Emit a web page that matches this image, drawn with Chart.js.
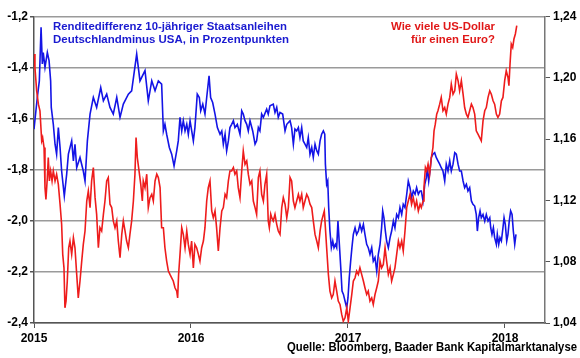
<!DOCTYPE html>
<html><head><meta charset="utf-8">
<script src="https://cdn.jsdelivr.net/npm/chart.js@4"></script>
<style>html,body{margin:0;padding:0;background:#fff}#wrap{width:580px;height:358px;position:relative}</style>
</head><body><div id="wrap"><canvas id="c" width="580" height="358"></canvas></div>
<script>
// Spread: 10y Bund minus 10y UST (percentage points), left axis
const spreadDates = [2015.000,2015.021,2015.034,2015.045,2015.053,2015.059,2015.070,2015.085,2015.096,2015.106,2015.110,2015.123,2015.134,2015.144,2015.155,2015.166,2015.176,2015.193,2015.208,2015.219,2015.240,2015.251,2015.261,2015.272,2015.293,2015.314,2015.325,2015.340,2015.357,2015.378,2015.399,2015.425,2015.442,2015.463,2015.484,2015.505,2015.527,2015.548,2015.569,2015.601,2015.622,2015.654,2015.675,2015.707,2015.728,2015.750,2015.771,2015.792,2015.813,
2015.824,2015.834,2015.845,2015.862,2015.877,2015.892,2015.909,2015.919,2015.930,2015.941,2015.951,2015.962,2015.973,2015.983,2015.994,2016.015,2016.025,2016.040,2016.053,2016.062,2016.075,2016.089,2016.100,2016.115,2016.125,2016.138,2016.153,2016.168,2016.185,2016.196,2016.206,2016.217,2016.227,2016.238,2016.248,2016.259,2016.270,2016.280,2016.295,2016.312,2016.323,2016.333,2016.344,2016.355,2016.365,2016.376,2016.393,2016.408,2016.418,2016.429,2016.439,2016.450,2016.461,2016.482,2016.492,2016.503,2016.524,2016.535,2016.546,2016.556,2016.567,2016.584,2016.599,2016.610,2016.631,
2016.641,2016.652,2016.662,2016.673,2016.684,2016.694,2016.705,2016.715,2016.726,2016.737,2016.747,2016.758,2016.769,2016.779,2016.790,2016.801,2016.811,2016.822,2016.832,2016.843,2016.852,2016.856,2016.864,2016.871,2016.877,2016.885,2016.894,2016.903,2016.911,2016.920,2016.928,2016.936,2016.945,2016.954,2016.962,2016.971,2016.981,2016.992,2017.000,2017.008,2017.017,2017.025,2017.034,2017.045,2017.055,2017.066,2017.076,2017.087,2017.098,2017.108,2017.119,2017.129,2017.140,2017.151,2017.161,2017.172,2017.183,2017.193,2017.204,2017.214,2017.221,2017.229,2017.238,2017.246,2017.257,2017.268,2017.278,2017.289,2017.299,2017.310,2017.321,2017.331,2017.342,2017.352,2017.363,2017.374,2017.384,2017.395,2017.405,2017.416,2017.427,2017.437,2017.448,2017.459,
2017.467,2017.478,2017.489,2017.499,2017.505,2017.514,2017.522,2017.531,2017.541,2017.552,2017.562,2017.573,2017.584,2017.594,2017.605,2017.616,2017.626,2017.637,2017.648,2017.658,2017.669,2017.680,2017.690,2017.701,2017.711,2017.722,2017.733,2017.743,2017.754,2017.764,2017.775,2017.786,2017.796,2017.807,2017.817,2017.824,2017.832,2017.841,2017.849,2017.860,2017.871,2017.881,2017.892,2017.903,2017.909,2017.917,2017.926,2017.934,2017.945,2017.951,2017.960,2017.968,2017.977,2017.987,2017.994,2018.002,2018.011,2018.019,2018.027,2018.036,2018.045,2018.053,2018.062,2018.070];
const spreadValues = [-1.641,-1.517,-1.452,-1.242,-1.386,-1.341,-1.399,-1.341,-1.373,-1.452,-1.556,-1.622,-1.700,-1.739,-1.635,-1.713,-1.805,-1.903,-1.818,-1.739,-1.687,-1.765,-1.700,-1.792,-1.752,-1.805,-1.844,-1.687,-1.582,-1.517,-1.556,-1.478,-1.530,-1.504,-1.556,-1.582,-1.517,-1.595,-1.543,-1.504,-1.491,-1.347,-1.452,-1.412,-1.530,-1.452,-1.491,-1.452,-1.465,
-1.648,-1.622,-1.661,-1.713,-1.739,-1.785,-1.726,-1.687,-1.595,-1.648,-1.608,-1.648,-1.622,-1.661,-1.608,-1.687,-1.635,-1.504,-1.517,-1.569,-1.543,-1.582,-1.517,-1.432,-1.517,-1.537,-1.582,-1.635,-1.661,-1.648,-1.700,-1.661,-1.726,-1.687,-1.635,-1.622,-1.608,-1.635,-1.622,-1.661,-1.569,-1.582,-1.608,-1.622,-1.648,-1.608,-1.648,-1.700,-1.687,-1.635,-1.648,-1.582,-1.595,-1.563,-1.582,-1.550,-1.543,-1.576,-1.556,-1.595,-1.576,-1.582,-1.648,-1.622,-1.608,
-1.635,-1.700,-1.641,-1.648,-1.635,-1.674,-1.635,-1.687,-1.700,-1.713,-1.674,-1.739,-1.713,-1.752,-1.700,-1.726,-1.739,-1.687,-1.661,-1.648,-1.661,-1.778,-1.857,-1.844,-1.948,-2.040,-2.105,-2.079,-2.105,-2.092,-2.105,-2.001,-2.092,-2.184,-2.275,-2.288,-2.314,-2.341,-2.301,-2.223,-2.158,-2.105,-2.053,-2.027,-2.053,-2.040,-2.014,-2.040,-2.014,-2.053,-2.092,-2.105,-2.131,-2.105,-2.158,-2.144,-2.197,-2.131,-2.092,-2.027,-1.961,-1.988,-2.040,-2.079,-2.105,-2.066,-2.040,-2.001,-2.027,-1.975,-1.988,-1.948,-1.975,-1.935,-1.948,-1.896,-1.844,-1.870,-1.909,-1.883,-1.896,-1.870,-1.896,-1.883,
-1.883,-1.922,-1.857,-1.831,-1.792,-1.844,-1.805,-1.752,-1.739,-1.733,-1.752,-1.765,-1.778,-1.792,-1.805,-1.844,-1.778,-1.805,-1.765,-1.805,-1.778,-1.733,-1.739,-1.778,-1.805,-1.805,-1.844,-1.870,-1.857,-1.883,-1.870,-1.922,-1.935,-1.942,-1.975,-2.040,-1.988,-1.961,-1.988,-1.975,-2.001,-1.975,-2.001,-1.988,-2.027,-2.053,-2.027,-2.066,-2.092,-2.053,-2.092,-2.066,-2.079,-2.027,-1.988,-2.014,-2.079,-2.053,-2.001,-1.961,-1.975,-2.040,-2.092,-2.053];

// EUR/USD, right axis
const fxDates = [2015.000,2015.006,2015.017,2015.028,2015.038,2015.049,2015.055,2015.064,2015.070,2015.076,2015.085,2015.091,2015.098,2015.106,2015.115,2015.123,2015.134,2015.144,2015.155,2015.166,2015.176,2015.183,2015.191,2015.197,2015.204,2015.212,2015.221,2015.229,2015.240,2015.251,2015.261,2015.272,2015.282,2015.293,2015.304,2015.314,2015.325,2015.336,2015.346,2015.357,2015.367,2015.378,2015.389,2015.399,2015.410,2015.420,2015.431,2015.442,2015.452,2015.463,2015.473,2015.484,2015.495,2015.505,2015.516,2015.527,2015.537,2015.548,2015.559,2015.569,2015.580,2015.590,2015.601,2015.611,2015.622,2015.633,2015.643,2015.650,2015.658,2015.669,2015.680,2015.690,2015.696,2015.707,2015.718,2015.728,2015.739,2015.750,2015.760,2015.771,2015.782,2015.792,2015.803,2015.813,
2015.824,2015.834,2015.845,2015.856,2015.866,2015.877,2015.887,2015.898,2015.909,2015.915,2015.921,2015.930,2015.941,2015.951,2015.962,2015.973,2015.983,2015.994,2016.004,2016.015,2016.025,2016.036,2016.047,2016.057,2016.068,2016.079,2016.089,2016.100,2016.110,2016.121,2016.132,2016.142,2016.153,2016.163,2016.174,2016.185,2016.196,2016.206,2016.217,2016.227,2016.238,2016.248,2016.259,2016.270,2016.280,2016.291,2016.301,2016.312,2016.323,2016.333,2016.344,2016.355,2016.365,2016.376,2016.387,2016.397,2016.408,2016.418,2016.429,2016.439,2016.450,2016.461,2016.471,2016.482,2016.492,2016.499,2016.508,2016.514,2016.524,2016.535,2016.546,2016.556,2016.567,2016.578,2016.588,2016.599,2016.610,2016.620,2016.631,
2016.641,2016.652,2016.662,2016.673,2016.684,2016.694,2016.705,2016.715,2016.726,2016.737,2016.747,2016.758,2016.769,2016.779,2016.790,2016.801,2016.811,2016.822,2016.832,2016.843,2016.849,2016.856,2016.864,2016.875,2016.885,2016.896,2016.906,2016.917,2016.928,2016.938,2016.949,2016.960,2016.970,2016.981,2016.992,2017.002,2017.013,2017.024,2017.034,2017.045,2017.055,2017.066,2017.076,2017.087,2017.098,2017.108,2017.119,2017.129,2017.140,2017.151,2017.161,2017.172,2017.183,2017.193,2017.204,2017.214,2017.225,2017.236,2017.246,2017.257,2017.268,2017.278,2017.289,2017.299,2017.310,2017.321,2017.331,2017.342,2017.352,2017.363,2017.374,2017.384,2017.395,2017.405,2017.416,2017.427,2017.437,2017.448,2017.459,
2017.467,2017.478,2017.484,2017.493,2017.501,2017.510,2017.520,2017.531,2017.541,2017.548,2017.556,2017.565,2017.573,2017.584,2017.594,2017.605,2017.616,2017.626,2017.637,2017.648,2017.658,2017.669,2017.680,2017.690,2017.701,2017.711,2017.722,2017.733,2017.743,2017.754,2017.764,2017.775,2017.786,2017.796,2017.807,2017.817,2017.828,2017.839,2017.849,2017.860,2017.871,2017.881,2017.892,2017.903,2017.913,2017.924,2017.934,2017.945,2017.955,2017.966,2017.977,2017.987,2017.998,2018.008,2018.019,2018.025,2018.032,2018.040,2018.049,2018.057,2018.066,2018.075];
const fxValues = [1.2155,1.2067,1.1915,1.1828,1.1785,1.1589,1.1610,1.1545,1.1283,1.1207,1.1349,1.1480,1.1327,1.1392,1.1327,1.1392,1.1327,1.1371,1.1305,1.1175,1.1044,1.0848,1.0760,1.0499,1.0543,1.0674,1.0891,1.0935,1.0848,1.0957,1.0891,1.0717,1.0564,1.0674,1.0804,1.0913,1.1000,1.1196,1.1262,1.1153,1.1327,1.1414,1.1218,1.1109,1.0891,1.1022,1.1000,1.1109,1.1196,1.1327,1.1349,1.1175,1.1153,1.1066,1.1022,1.1066,1.0935,1.0826,1.0978,1.1066,1.1000,1.0935,1.0891,1.0978,1.1066,1.1196,1.1371,1.1610,1.1480,1.1392,1.1305,1.1196,1.1327,1.1283,1.1371,1.1153,1.1218,1.1240,1.1196,1.1327,1.1371,1.1349,1.1283,1.1022,
1.1022,1.0891,1.0804,1.0739,1.0717,1.0695,1.0674,1.0630,1.0608,1.0564,1.0717,1.0848,1.1022,1.0978,1.0891,1.1000,1.0913,1.0848,1.0935,1.0760,1.0913,1.0891,1.0848,1.0804,1.0891,1.0935,1.1022,1.1196,1.1283,1.1327,1.1131,1.1087,1.1131,1.1022,1.0870,1.1022,1.1131,1.1153,1.1240,1.1218,1.1327,1.1392,1.1392,1.1414,1.1371,1.1392,1.1283,1.1218,1.1392,1.1523,1.1436,1.1458,1.1371,1.1305,1.1327,1.1196,1.1153,1.1109,1.1349,1.1392,1.1240,1.1196,1.1305,1.1371,1.1066,1.1022,1.1109,1.1087,1.1066,1.1109,1.1044,1.1000,1.0978,1.1153,1.1218,1.1175,1.1087,1.1153,1.1349,
1.1327,1.1196,1.1153,1.1196,1.1240,1.1196,1.1240,1.1153,1.1196,1.1240,1.1218,1.1175,1.1153,1.1066,1.0978,1.0935,1.0891,1.1000,1.1066,1.1109,1.1131,1.1022,1.0891,1.0717,1.0608,1.0564,1.0586,1.0674,1.0608,1.0543,1.0521,1.0456,1.0412,1.0434,1.0499,1.0412,1.0499,1.0586,1.0674,1.0695,1.0739,1.0717,1.0760,1.0717,1.0674,1.0630,1.0586,1.0608,1.0543,1.0564,1.0521,1.0586,1.0630,1.0674,1.0804,1.0760,1.0782,1.0891,1.0804,1.0717,1.0760,1.0674,1.0717,1.0760,1.0848,1.0935,1.0891,1.0935,1.0870,1.1000,1.1153,1.1196,1.1240,1.1175,1.1218,1.1153,1.1196,1.1131,1.1175,
1.1153,1.1196,1.1283,1.1414,1.1392,1.1436,1.1371,1.1480,1.1545,1.1654,1.1697,1.1763,1.1785,1.1828,1.1872,1.1785,1.1806,1.1763,1.1828,1.1872,1.1959,1.1893,1.1915,1.2024,1.1981,1.1915,1.1981,1.1893,1.1806,1.1763,1.1741,1.1785,1.1828,1.1806,1.1763,1.1654,1.1632,1.1610,1.1589,1.1719,1.1785,1.1806,1.1872,1.1915,1.1893,1.1850,1.1828,1.1763,1.1741,1.1763,1.1850,1.1872,1.1981,1.2046,1.2002,1.1948,1.2089,1.2220,1.2198,1.2253,1.2286,1.2340];

const yearTicks = [2015, 2016, 2017, 2018];
const leftTicks = [-2.4, -2.2, -2.0, -1.8, -1.6, -1.4, -1.2];
const rightTicks = [1.04, 1.08, 1.12, 1.16, 1.20, 1.24];
const spreadLabel = ['Renditedifferenz 10-jähriger Staatsanleihen', 'Deutschlandminus USA, in Prozentpunkten'];
const fxLabel = ['Wie viele US-Dollar', 'für einen Euro?'];
const sourceLabel = 'Quelle: Bloomberg, Baader Bank Kapitalmarktanalyse';

const FONT = 'Liberation Sans, Arial, sans-serif';
const BLUE = '#1414e6';
const RED = '#ee1c1c';

const textPlugin = {
  id: 'texts',
  afterDraw(chart) {
    const ctx = chart.ctx;
    ctx.save();
    ctx.textBaseline = 'middle';
    ctx.font = 'bold 11.5px ' + FONT;
    ctx.fillStyle = '#1a1ad0';
    ctx.textAlign = 'left';
    ctx.fillText(spreadLabel[0], 53, 26.5, 234);
    ctx.fillText(spreadLabel[1], 53, 39.5, 236);
    ctx.fillStyle = '#e01818';
    ctx.textAlign = 'right';
    ctx.fillText(fxLabel[0], 495, 26.5, 104);
    ctx.fillText(fxLabel[1], 495, 39.5, 84);
    ctx.fillStyle = '#000';
    ctx.font = 'bold 12px ' + FONT;
    ctx.fillText(sourceLabel, 577, 348, 290);
    ctx.restore();
  }
};

const toPts = (xs, ys) => xs.map((x, i) => ({x, y: ys[i]}));

new Chart(document.getElementById('c'), {
  type: 'line',
  data: {
    datasets: [
      {data: toPts(fxDates, fxValues), yAxisID: 'yR', borderColor: RED, borderWidth: 1.6, pointRadius: 0, tension: 0},
      {data: toPts(spreadDates, spreadValues), yAxisID: 'y', borderColor: BLUE, borderWidth: 1.6, pointRadius: 0, tension: 0}
    ]
  },
  options: {
    responsive: false, animation: false, parsing: true,
    layout: {padding: {top: 16.5, left: 0, right: 0, bottom: 0}},
    plugins: {legend: {display: false}, tooltip: {enabled: false}},
    scales: {
      x: {
        type: 'linear', min: 2015, max: 2018.2548,
        afterBuildTicks: s => { s.ticks = yearTicks.map(v => ({value: v})); },
        afterFit: s => { s.height = 35; },
        ticks: {font: {family: FONT, size: 12, weight: 'bold'}, color: '#000', padding: 3, maxRotation: 0, callback: v => String(v)},
        grid: {drawOnChartArea: false, tickLength: 5, color: '#555', tickColor: '#555'},
        border: {color: '#555', width: 1.5}
      },
      y: {
        position: 'left', min: -2.4, max: -1.2,
        afterBuildTicks: s => { s.ticks = leftTicks.map(v => ({value: v})); },
        afterFit: s => { s.width = 34; },
        ticks: {font: {family: FONT, size: 12, weight: 'bold'}, color: '#000', padding: 2, callback: v => v.toFixed(1).replace('.', ',')},
        grid: {color: '#9a9a9a', lineWidth: 1.5, tickLength: 4, tickColor: '#555'},
        border: {color: '#555', width: 1.5}
      },
      yR: {
        position: 'right', min: 1.04, max: 1.24,
        afterBuildTicks: s => { s.ticks = rightTicks.map(v => ({value: v})); },
        afterFit: s => { s.width = 35; },
        ticks: {font: {family: FONT, size: 12, weight: 'bold'}, color: '#000', padding: 3, callback: v => v.toFixed(2).replace('.', ',')},
        grid: {drawOnChartArea: false, tickLength: 5, tickColor: '#555'},
        border: {color: '#777', width: 1.5}
      }
    }
  },
  plugins: [textPlugin]
});
</script></body></html>
